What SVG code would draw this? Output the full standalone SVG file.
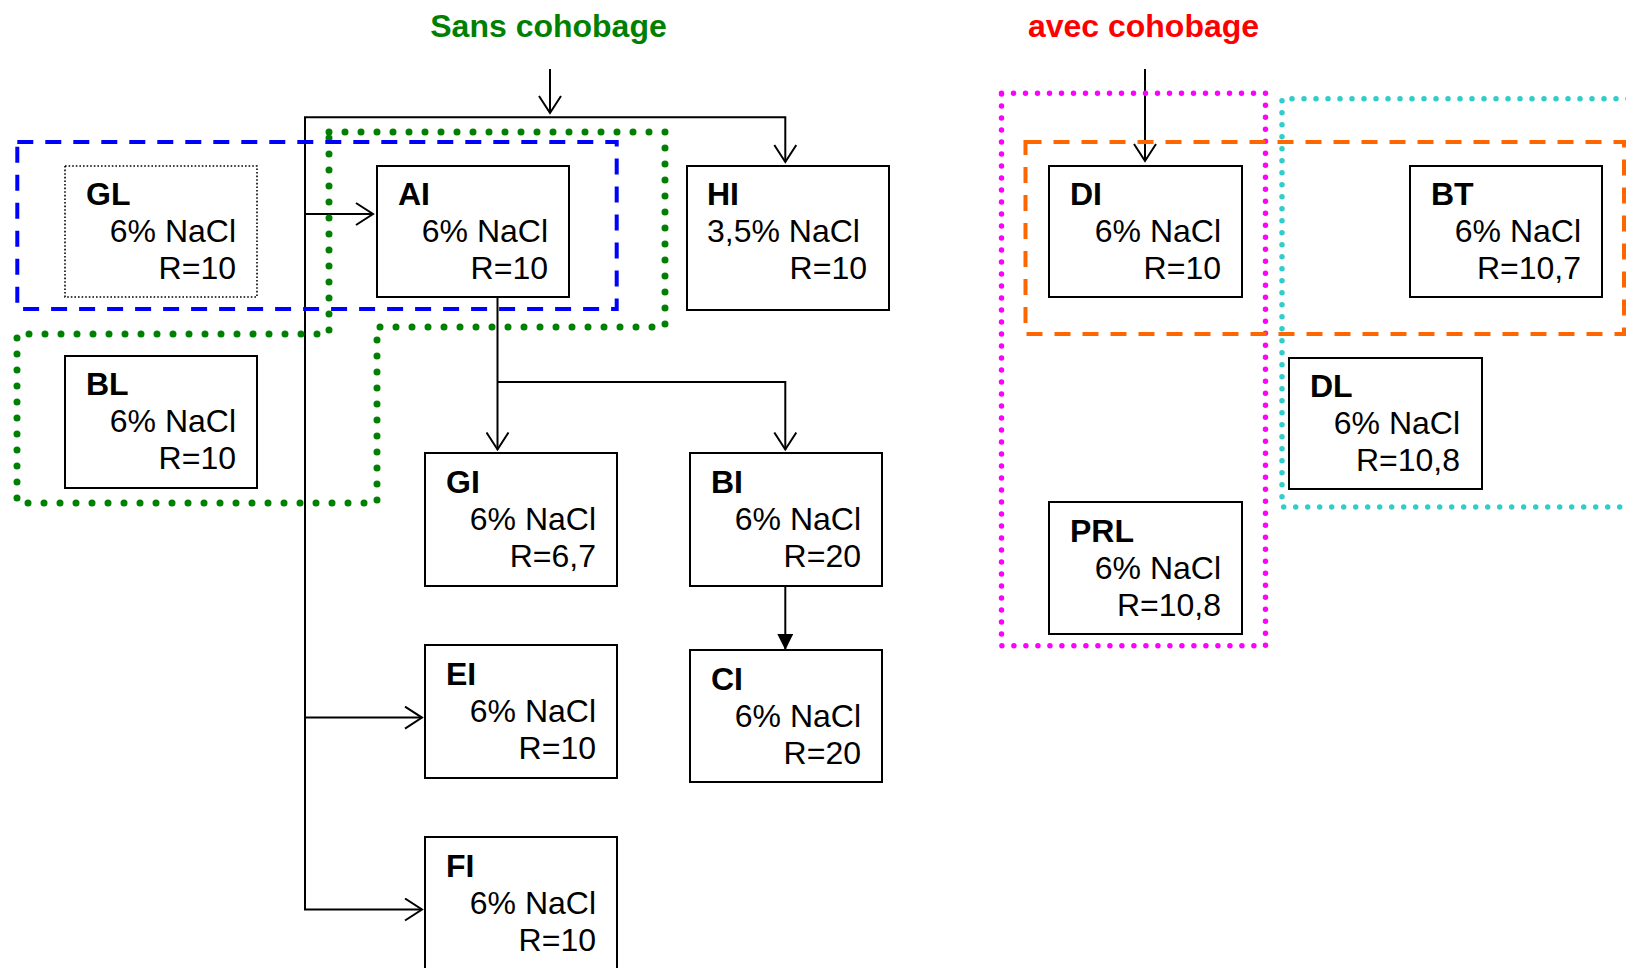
<svg xmlns="http://www.w3.org/2000/svg" width="1626" height="968" viewBox="0 0 1626 968">
<defs>
<marker id="open" viewBox="0 0 20 24" refX="18" refY="12" markerWidth="20" markerHeight="24" markerUnits="userSpaceOnUse" orient="auto">
<path d="M1,1 L18,12 L1,23" fill="none" stroke="#000" stroke-width="2"/>
</marker>
<marker id="solid" viewBox="0 0 16 16" refX="16" refY="8" markerWidth="16" markerHeight="16" markerUnits="userSpaceOnUse" orient="auto">
<path d="M0,0 L16,8 L0,16 Z" fill="#000"/>
</marker>
</defs>
<style>
.box{fill:#fff;stroke:#000;stroke-width:2}
.dbox{fill:#fff;stroke:#000;stroke-width:1.6;stroke-dasharray:1.6 2}
.lbl{font-family:"Liberation Sans",Arial,sans-serif;font-weight:bold;font-size:32px;fill:#000}
.txt{font-family:"Liberation Sans",Arial,sans-serif;font-size:32px;fill:#000}
.end{text-anchor:end}
.title{font-family:"Liberation Sans",Arial,sans-serif;font-weight:bold;font-size:32px;text-anchor:middle}
.ln{fill:none;stroke:#000;stroke-width:2}
.green{fill:none;stroke:#008000;stroke-width:7;stroke-linecap:round;stroke-dasharray:0 16}
.mag{fill:none;stroke:#ff00ff;stroke-width:5.5;stroke-linecap:round;stroke-dasharray:0 12}
.cyan{fill:none;stroke:#33cccc;stroke-width:5.5;stroke-linecap:round;stroke-dasharray:0 12}
.blue{fill:none;stroke:#0000ff;stroke-width:4;stroke-dasharray:16 12}
.orange{fill:none;stroke:#ff6600;stroke-width:4;stroke-dasharray:16 12}
</style>
<rect width="1626" height="968" fill="#fff"/>
<text class="title" x="548.5" y="37" fill="#008000">Sans cohobage</text>
<text class="title" x="1143.5" y="37" fill="#ff0000">avec cohobage</text>

<g id="connectors">
<path class="ln" d="M550,69 V113" marker-end="url(#open)"/>
<path class="ln" d="M305,909.5 V117.3 H785.3 V162" marker-end="url(#open)"/>
<path class="ln" d="M305,214 H373" marker-end="url(#open)"/>
<path class="ln" d="M305,717.6 H422" marker-end="url(#open)"/>
<path class="ln" d="M304,909.5 H422" marker-end="url(#open)"/>
<path class="ln" d="M497.5,297 V449.5" marker-end="url(#open)"/>
<path class="ln" d="M497.5,382 H785.3 V449.5" marker-end="url(#open)"/>
<path class="ln" d="M785.3,586 V650" marker-end="url(#solid)"/>
<path class="ln" d="M1145,69 V161" marker-end="url(#open)"/>
</g>

<g id="GL"><rect class="dbox" x="65" y="166" width="192" height="131"/>
<text class="lbl" x="86" y="205">GL</text><text class="txt end" x="236" y="242">6% NaCl</text><text class="txt end" x="236" y="279">R=10</text></g>
<g id="AI"><rect class="box" x="377" y="166" width="192" height="131"/>
<text class="lbl" x="398" y="205">AI</text><text class="txt end" x="548" y="242">6% NaCl</text><text class="txt end" x="548" y="279">R=10</text></g>
<g id="HI"><rect class="box" x="687" y="166" width="202" height="144"/>
<text class="lbl" x="707" y="205">HI</text><text class="txt" x="707" y="242">3,5% NaCl</text><text class="txt end" x="867" y="279">R=10</text></g>
<g id="BL"><rect class="box" x="65" y="356" width="192" height="132"/>
<text class="lbl" x="86" y="395">BL</text><text class="txt end" x="236" y="432">6% NaCl</text><text class="txt end" x="236" y="469">R=10</text></g>
<g id="GI"><rect class="box" x="425" y="453" width="192" height="133"/>
<text class="lbl" x="446" y="493">GI</text><text class="txt end" x="596" y="530">6% NaCl</text><text class="txt end" x="596" y="567">R=6,7</text></g>
<g id="BI"><rect class="box" x="690" y="453" width="192" height="133"/>
<text class="lbl" x="711" y="493">BI</text><text class="txt end" x="861" y="530">6% NaCl</text><text class="txt end" x="861" y="567">R=20</text></g>
<g id="EI"><rect class="box" x="425" y="645" width="192" height="133"/>
<text class="lbl" x="446" y="685">EI</text><text class="txt end" x="596" y="722">6% NaCl</text><text class="txt end" x="596" y="759">R=10</text></g>
<g id="CI"><rect class="box" x="690" y="650" width="192" height="132"/>
<text class="lbl" x="711" y="690">CI</text><text class="txt end" x="861" y="727">6% NaCl</text><text class="txt end" x="861" y="764">R=20</text></g>
<g id="FI"><rect class="box" x="425" y="837" width="192" height="140"/>
<text class="lbl" x="446" y="877">FI</text><text class="txt end" x="596" y="914">6% NaCl</text><text class="txt end" x="596" y="951">R=10</text></g>
<g id="DI"><rect class="box" x="1049" y="166" width="193" height="131"/>
<text class="lbl" x="1070" y="205">DI</text><text class="txt end" x="1221" y="242">6% NaCl</text><text class="txt end" x="1221" y="279">R=10</text></g>
<g id="BT"><rect class="box" x="1410" y="166" width="192" height="131"/>
<text class="lbl" x="1431" y="205">BT</text><text class="txt end" x="1581" y="242">6% NaCl</text><text class="txt end" x="1581" y="279">R=10,7</text></g>
<g id="DL"><rect class="box" x="1289" y="358" width="193" height="131"/>
<text class="lbl" x="1310" y="397">DL</text><text class="txt end" x="1460" y="434">6% NaCl</text><text class="txt end" x="1460" y="471">R=10,8</text></g>
<g id="PRL"><rect class="box" x="1049" y="502" width="193" height="132"/>
<text class="lbl" x="1070" y="542">PRL</text><text class="txt end" x="1221" y="579">6% NaCl</text><text class="txt end" x="1221" y="616">R=10,8</text></g>

<g id="groups">
<path class="green" d="M329,132 H665 V327 H377 V503 H17 V334 H329 Z"/>
<rect class="blue" x="17.3" y="142" width="599.4" height="167"/>
<rect class="mag" x="1001.5" y="93.3" width="264" height="552.4"/>
<path class="cyan" d="M1640,98.7 H1282 V507 H1640"/>
<rect class="orange" x="1025.5" y="142" width="598.5" height="192"/>
</g>
</svg>
